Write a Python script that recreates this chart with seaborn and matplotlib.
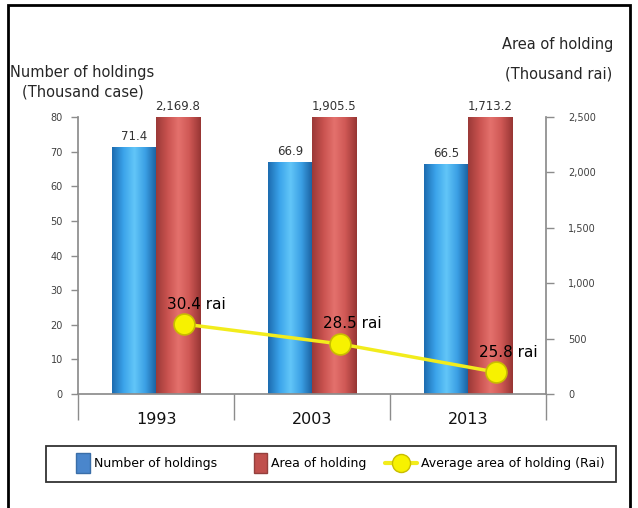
import numpy as np
import pandas as pd
import matplotlib
matplotlib.use('Agg')
import matplotlib.pyplot as plt
import matplotlib.patches as mpatches
from matplotlib.lines import Line2D
from matplotlib.colors import LinearSegmentedColormap
from matplotlib.legend_handler import HandlerPatch
import seaborn as sns

# Data
years = ['1993', '2003', '2013']
holdings = [71.4, 66.9, 66.5]            # thousand case
area = [2169.8, 1905.5, 1713.2]          # thousand rai
avg_area = [30.4, 28.5, 25.8]            # rai per holding
holdings_labels = ['71.4', '66.9', '66.5']
area_labels = ['2,169.8', '1,905.5', '1,713.2']
left_ticks = [0, 10, 20, 30, 40, 50, 60, 70, 80]
right_ticks = [0, 500, 1000, 1500, 2000, 2500]
right_ticklabels = ['0', '500', '1,000', '1,500', '2,000', '2,500']

sns.set_theme(style='white')
plt.rcParams['font.family'] = ['DejaVu Sans']

W, H = 638, 508
fig = plt.figure(figsize=(W / 100, H / 100), dpi=100)
ax = fig.add_axes([78 / W, 1 - 394 / H, 468 / W, 277 / H])

df = pd.DataFrame({
    'year': years * 2,
    'series': ['Number of holdings'] * 3 + ['Area of holding'] * 3,
    'value': holdings + area,
})
blue, red = '#4a86cc', '#c0504d'
sns.barplot(data=df, x='year', y='value', hue='series', palette=[blue, red],
            width=0.565, legend=False, ax=ax, saturation=1)

# cylinder-like shading on the bars
blue_cm = LinearSegmentedColormap.from_list('b', ['#1d6cb0', '#3aa3ea', '#62c6f8', '#3a9fe4', '#1a5f9e'])
red_cm = LinearSegmentedColormap.from_list('r', ['#9c3a38', '#c9524f', '#e4716d', '#cf5855', '#983634'])
grad = np.linspace(0, 1, 64).reshape(1, -1)
for i, p in enumerate(ax.patches[:6]):
    x0, w, h = p.get_x(), p.get_width(), min(p.get_height(), 80)
    cm = blue_cm if i < 3 else red_cm
    im = ax.imshow(grad, cmap=cm, extent=[x0, x0 + w, 0, h], aspect='auto', zorder=2)
    im.set_clip_path(p)
ax.set_xlim(-0.5, 2.5)
ax.set_ylim(0, 80)

# bar value labels
for i, p in enumerate(ax.patches[:6]):
    cx = p.get_x() + p.get_width() / 2
    top = min(p.get_height(), 80)
    lab = holdings_labels[i] if i < 3 else area_labels[i - 3]
    ax.annotate(lab, (cx, top), xytext=(0, 4), textcoords='offset pixels',
                ha='center', va='bottom', fontsize=8.5, color='#333333',
                annotation_clip=False)

# axes styling
gray = '#8c8c8c'
for s in ['top', 'right']:
    ax.spines[s].set_visible(False)
ax.spines['left'].set_color(gray)
ax.spines['bottom'].set_color(gray)
ax.set_yticks(left_ticks)
ax.tick_params(axis='y', length=5, width=1, color=gray, labelsize=7, labelcolor='#404040', pad=6, left=True)
ax.set_xticks(range(3))
ax.set_xticklabels(years, fontsize=11.5, color='#111111')
ax.tick_params(axis='x', length=0, pad=13)
ax.set_xticks([-0.5, 0.5, 1.5, 2.5], minor=True)
ax.tick_params(axis='x', which='minor', length=19, width=1, color=gray, bottom=True)
ax.set_xlabel('')
ax.set_ylabel('')
ax.grid(False)

# right axis
ax2 = ax.twinx()
ax2.set_ylim(0, 2500)
ax2.set_yticks(right_ticks)
ax2.set_yticklabels(right_ticklabels)
for s in ['top', 'left', 'bottom']:
    ax2.spines[s].set_visible(False)
ax2.spines['right'].set_color(gray)
ax2.tick_params(axis='y', length=6, width=1, color=gray, labelsize=7, labelcolor='#404040', pad=10, right=True)
ax2.grid(False)

# line for average area (hidden axis)
ax3 = ax.twinx()
ax3.axis('off')
xs = np.arange(3) + 0.18
sns.lineplot(x=xs, y=avg_area, ax=ax3, color='#f2ec1c', linewidth=2.5, marker='o',
             markersize=15, markerfacecolor='#f7f200', markeredgecolor='#c9bd00',
             markeredgewidth=1.2, zorder=5)
ax3.set_xlim(-0.5, 2.5)
ax3.set_ylim(23.7, 50.25)
for x, v in zip(xs, avg_area):
    ax3.annotate(f'{v} rai', (x, v), xytext=(12, 20), textcoords='offset pixels',
                 ha='center', va='center', fontsize=11, color='black')

# axis titles
fig.text(10 / W, 1 - 72 / H, 'Number of holdings', fontsize=10.5, ha='left', va='center')
fig.text(22 / W, 1 - 92 / H, '(Thousand case)', fontsize=10.5, ha='left', va='center')
fig.text(558 / W, 1 - 45 / H, 'Area of holding', fontsize=10.5, ha='center', va='center')
fig.text(559 / W, 1 - 74 / H, '(Thousand rai)', fontsize=10.5, ha='center', va='center')

# legend
def narrow_rect(legend, orig_handle, xdescent, ydescent, width, height, fontsize):
    return mpatches.Rectangle((width - 10 - xdescent, -ydescent - 4), 10, height + 8)

handles = [
    mpatches.Patch(facecolor=blue, edgecolor='#3a6ea8', label='Number of holdings'),
    mpatches.Patch(facecolor=red, edgecolor='#94403d', label='Area of holding'),
    Line2D([], [], color='#f2ec1c', linewidth=3, marker='o', markersize=13,
           markerfacecolor='#f7f200', markeredgecolor='#c9bd00', label='Average area of holding (Rai)'),
]
leg = fig.legend(handles=handles, loc='lower left', ncol=3, frameon=True, fontsize=9,
                 bbox_to_anchor=(40 / W, 1 - 488 / H, 582 / W, 48 / H), mode='expand',
                 handlelength=2.6, handletextpad=0.3, columnspacing=1.0, fancybox=False,
                 borderpad=0.9, labelcolor='black',
                 handler_map={mpatches.Patch: HandlerPatch(patch_func=narrow_rect)})
leg.get_frame().set_edgecolor('black')
leg.get_frame().set_linewidth(1.3)

# outer frame
fig.add_artist(mpatches.Rectangle((8 / W, -0.02), 622 / W, 1.02 - 5 / H, transform=fig.transFigure,
                                  fill=False, edgecolor='black', linewidth=2))

fig.savefig('out.png', dpi=100)
